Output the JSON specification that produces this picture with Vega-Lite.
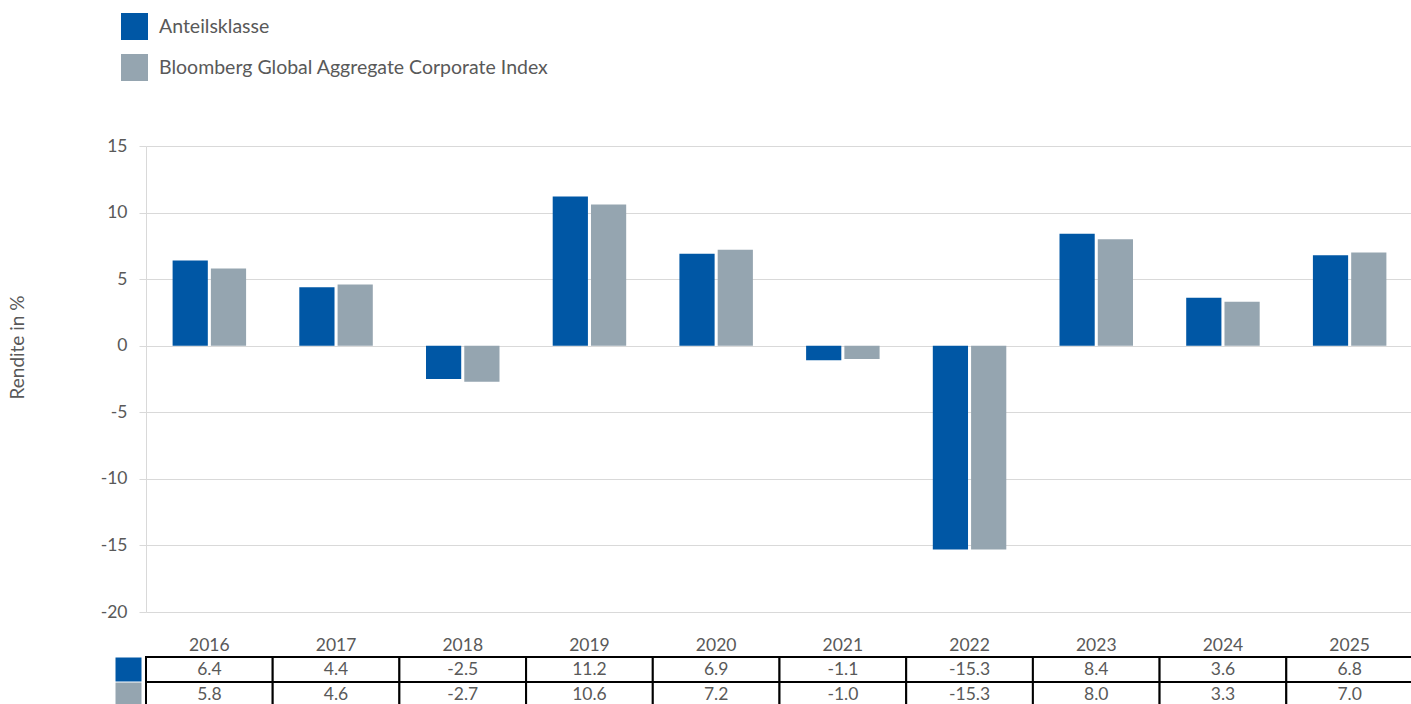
{
  "$schema": "https://vega.github.io/schema/vega-lite/v6.json",
  "padding": {"top": 13, "left": 8, "right": 0, "bottom": 0},
  "autosize": {"type": "pad"},
  "background": "white",
  "config": {
    "font": "Lato",
    "view": {"stroke": null},
    "locale": {"number": {"decimal": ".", "thousands": ",", "grouping": [3], "currency": ["$", ""], "minus": "-"}}
  },
  "data": {
    "values": [
      {"year": "2016", "series": "Anteilsklasse", "value": 6.4},
      {"year": "2016", "series": "Bloomberg Global Aggregate Corporate Index", "value": 5.8},
      {"year": "2017", "series": "Anteilsklasse", "value": 4.4},
      {"year": "2017", "series": "Bloomberg Global Aggregate Corporate Index", "value": 4.6},
      {"year": "2018", "series": "Anteilsklasse", "value": -2.5},
      {"year": "2018", "series": "Bloomberg Global Aggregate Corporate Index", "value": -2.7},
      {"year": "2019", "series": "Anteilsklasse", "value": 11.2},
      {"year": "2019", "series": "Bloomberg Global Aggregate Corporate Index", "value": 10.6},
      {"year": "2020", "series": "Anteilsklasse", "value": 6.9},
      {"year": "2020", "series": "Bloomberg Global Aggregate Corporate Index", "value": 7.2},
      {"year": "2021", "series": "Anteilsklasse", "value": -1.1},
      {"year": "2021", "series": "Bloomberg Global Aggregate Corporate Index", "value": -1.0},
      {"year": "2022", "series": "Anteilsklasse", "value": -15.3},
      {"year": "2022", "series": "Bloomberg Global Aggregate Corporate Index", "value": -15.3},
      {"year": "2023", "series": "Anteilsklasse", "value": 8.4},
      {"year": "2023", "series": "Bloomberg Global Aggregate Corporate Index", "value": 8.0},
      {"year": "2024", "series": "Anteilsklasse", "value": 3.6},
      {"year": "2024", "series": "Bloomberg Global Aggregate Corporate Index", "value": 3.3},
      {"year": "2025", "series": "Anteilsklasse", "value": 6.8},
      {"year": "2025", "series": "Bloomberg Global Aggregate Corporate Index", "value": 7.0}
    ]
  },
  "bounds": "flush",
  "spacing": 45,
  "vconcat": [
    {
      "width": 1267,
      "height": 466,
      "mark": {"type": "bar"},
      "encoding": {
        "x": {
          "field": "year", "type": "nominal",
          "scale": {"paddingInner": 0.42, "paddingOuter": 0.21},
          "axis": {"orient": "bottom", "title": null, "domain": false, "ticks": false, "labelAngle": 0,
                   "labelFontSize": 17.5, "labelColor": "#595959", "labelPadding": 24}
        },
        "xOffset": {
          "field": "series", "type": "nominal",
          "sort": ["Anteilsklasse", "Bloomberg Global Aggregate Corporate Index"],
          "scale": {"paddingInner": 0.08, "paddingOuter": 0}
        },
        "y": {
          "field": "value", "type": "quantitative",
          "scale": {"domain": [-20, 15], "nice": false, "zero": true},
          "axis": {
            "title": "Rendite in %", "titleFontSize": 19, "titleFontWeight": "normal", "titleColor": "#595959",
            "titleAngle": -90, "titleX": -129, "titleY": 201, "titleAlign": "center", "titleBaseline": "middle",
            "values": [-20, -15, -10, -5, 0, 5, 10, 15],
            "labelExpr": "'' + datum.value",
            "labelFontSize": 17.5, "labelColor": "#595959", "labelPadding": 12,
            "tickSize": 7, "tickColor": "#d9d9d9", "domainColor": "#d9d9d9",
            "gridColor": "#d9d9d9", "gridWidth": 1
          }
        },
        "color": {
          "field": "series", "type": "nominal",
          "sort": ["Anteilsklasse", "Bloomberg Global Aggregate Corporate Index"],
          "scale": {"domain": ["Anteilsklasse", "Bloomberg Global Aggregate Corporate Index"], "range": ["#0057a5", "#95a5b0"]},
          "legend": {
            "title": null, "orient": "none", "legendX": -25, "legendY": -133,
            "symbolType": "square", "symbolSize": 729, "symbolStrokeWidth": 0,
            "labelFontSize": 19.5, "labelColor": "#595959", "labelOffset": 11, "labelLimit": 0,
            "rowPadding": 14, "padding": 0
          }
        }
      }
    },
    {
      "width": 1267,
      "height": 50,
      "encoding": {
        "x": {
          "field": "year", "type": "nominal",
          "scale": {"paddingInner": 0, "paddingOuter": 0},
          "axis": null
        },
        "y": {
          "field": "series", "type": "nominal",
          "sort": ["Anteilsklasse", "Bloomberg Global Aggregate Corporate Index"],
          "scale": {"paddingInner": 0, "paddingOuter": 0},
          "axis": {
            "title": null, "labels": false, "domain": false, "grid": false,
            "offset": 5, "tickSize": 26, "tickWidth": 24, "bandPosition": 0.5,
            "tickColor": {"condition": {"test": "datum.value === 'Anteilsklasse'", "value": "#0057a5"}, "value": "#95a5b0"}
          }
        }
      },
      "layer": [
        {
          "mark": {"type": "rect", "fill": "white", "stroke": "black", "strokeWidth": 2}
        },
        {
          "mark": {"type": "text", "fontSize": 17.5, "color": "#595959", "baseline": "middle"},
          "encoding": {
            "text": {"field": "value", "type": "quantitative", "format": ".1f"}
          }
        }
      ]
    }
  ]
}
